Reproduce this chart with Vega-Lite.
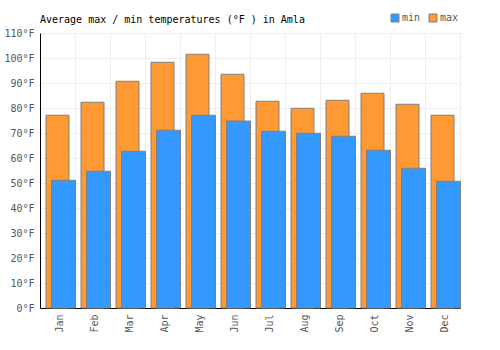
{
  "$schema": "https://vega.github.io/schema/vega-lite/v6.json",
  "width": 420,
  "height": 275,
  "autosize": "none",
  "padding": {"left": 40, "top": 33, "right": 40, "bottom": 42},
  "background": "white",
  "config": {
    "font": "DejaVu Sans Mono",
    "view": {"stroke": "#eeeeee", "strokeWidth": 1},
    "axis": {"labelFont": "DejaVu Sans Mono", "labelFontSize": 10, "labelColor": "#555555", "gridColor": "#eeeeee", "gridWidth": 1, "domainColor": "#000000", "domainWidth": 1, "tickSize": 0, "title": null},
    "legend": {"labelFont": "DejaVu Sans Mono", "labelFontSize": 10, "labelColor": "#555555"}
  },
  "title": {"text": "Average max / min temperatures (°F ) in Amla", "anchor": "start", "frame": "group", "font": "DejaVu Sans Mono", "fontSize": 10, "fontWeight": "normal", "color": "#000000", "offset": -12},
  "data": {"values": [
    {"month": "Jan", "series": "max", "temp": 77.1}, {"month": "Jan", "series": "min", "temp": 51.1},
    {"month": "Feb", "series": "max", "temp": 82.3}, {"month": "Feb", "series": "min", "temp": 54.7},
    {"month": "Mar", "series": "max", "temp": 90.7}, {"month": "Mar", "series": "min", "temp": 62.7},
    {"month": "Apr", "series": "max", "temp": 98.3}, {"month": "Apr", "series": "min", "temp": 71.1},
    {"month": "May", "series": "max", "temp": 101.5}, {"month": "May", "series": "min", "temp": 77.1},
    {"month": "Jun", "series": "max", "temp": 93.5}, {"month": "Jun", "series": "min", "temp": 74.8},
    {"month": "Jul", "series": "max", "temp": 82.7}, {"month": "Jul", "series": "min", "temp": 70.7},
    {"month": "Aug", "series": "max", "temp": 79.9}, {"month": "Aug", "series": "min", "temp": 69.9},
    {"month": "Sep", "series": "max", "temp": 83.1}, {"month": "Sep", "series": "min", "temp": 68.7},
    {"month": "Oct", "series": "max", "temp": 85.9}, {"month": "Oct", "series": "min", "temp": 63.1},
    {"month": "Nov", "series": "max", "temp": 81.5}, {"month": "Nov", "series": "min", "temp": 55.9},
    {"month": "Dec", "series": "max", "temp": 77.1}, {"month": "Dec", "series": "min", "temp": 50.7}
  ]},
  "encoding": {
    "x": {"field": "month", "type": "nominal", "sort": null,
      "scale": {"paddingInner": 0, "paddingOuter": 0},
      "axis": {"labelAngle": -90, "tickBand": "extent", "grid": true, "labelPadding": 6, "labelOffset": 2}},
    "y": {"field": "temp", "type": "quantitative",
      "scale": {"domain": [0, 110], "nice": false},
      "axis": {"values": [0,10,20,30,40,50,60,70,80,90,100,110], "labelExpr": "datum.value + '°F'", "grid": true, "labelPadding": 6}},
    "color": {"field": "series", "type": "nominal",
      "scale": {"domain": ["min", "max"], "range": ["#3399ff", "#ff9933"]},
      "legend": {"title": null, "orient": "none", "direction": "horizontal", "legendX": 350, "legendY": -20, "symbolType": "square", "symbolSize": 64, "symbolStrokeColor": "#808080", "symbolStrokeWidth": 1, "symbolOpacity": 1, "labelOffset": 2, "columnPadding": 6}}
  },
  "layer": [
    {"transform": [{"filter": "datum.series === 'max'"}],
     "mark": {"type": "bar", "width": 23, "xOffset": 0, "stroke": "#808080", "strokeWidth": 1, "opacity": 1}},
    {"transform": [{"filter": "datum.series === 'min'"}],
     "mark": {"type": "bar", "width": 24, "xOffset": 6, "stroke": "#808080", "strokeWidth": 1, "opacity": 1}}
  ]
}
